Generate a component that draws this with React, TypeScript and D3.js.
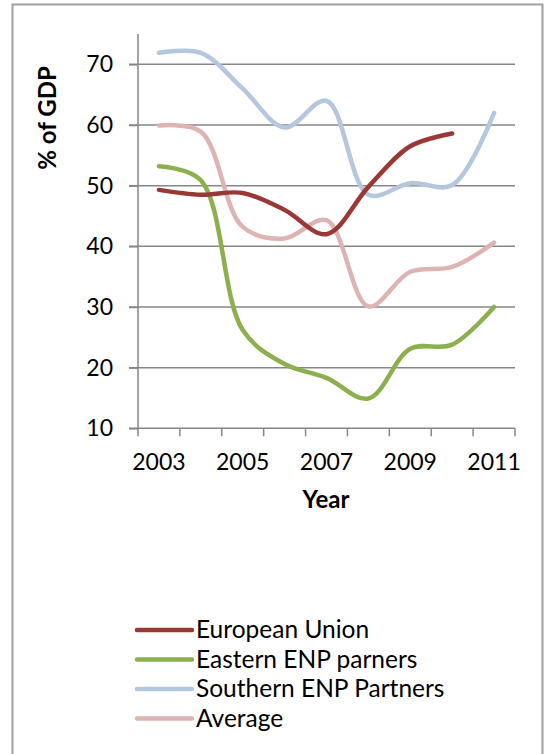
import * as d3 from "d3";
import { useEffect, useRef } from "react";

const years = ["2003", "2004", "2005", "2006", "2007", "2008", "2009", "2010", "2011"];
const yTicks = [10, 20, 30, 40, 50, 60, 70];
const xTickLabels = ["2003", "2005", "2007", "2009", "2011"];

const europeanUnion = [49.3, 48.5, 48.8, 46, 42, 49.8, 56.5, 58.6, null];
const easternEnp = [53.2, 50.9, 26.2, 20.6, 18.3, 14.9, 23.1, 23.8, 30];
const southernEnp = [71.9, 71.9, 66, 59.6, 64, 48.5, 50.4, 50.1, 62];
const average = [59.9, 58.9, 43.2, 41.3, 44.3, 30.1, 35.8, 36.6, 40.6];

const seriesNames = ["European Union", "Eastern ENP parners", "Southern ENP Partners", "Average"];
const seriesColors = ["#993835", "#8DB04E", "#B4C7DF", "#DEB4B3"];

const font = "Lato, 'Open Sans', sans-serif";

export default function App() {
  const ref = useRef<SVGSVGElement>(null);

  useEffect(() => {
    if (!ref.current) return;
    const svg = d3.select(ref.current);
    svg.selectAll("*").remove();

    const width = 544;
    const height = 754;
    svg.attr("width", width).attr("height", height);

    // chart frame
    svg
      .append("path")
      .attr("d", `M12.5,${height} V4.5 H542.5 V${height}`)
      .attr("fill", "none")
      .attr("stroke", "#a0a0a0")
      .attr("stroke-width", 2);

    const x = d3.scaleBand().domain(years).range([138, 515]).paddingInner(0).paddingOuter(0);
    const y = d3.scaleLinear().domain([10, 75]).range([428.3, 34]);

    // gridlines
    svg
      .append("g")
      .selectAll("line")
      .data(yTicks.filter((d) => d > 10))
      .join("line")
      .attr("x1", 129)
      .attr("x2", 515)
      .attr("y1", (d) => y(d))
      .attr("y2", (d) => y(d))
      .attr("stroke", "#868686")
      .attr("stroke-width", 1.5);

    // y axis
    const yAxis = svg
      .append("g")
      .attr("transform", `translate(138,0)`)
      .call(d3.axisLeft(y).tickValues(yTicks).tickSize(9).tickPadding(16).tickFormat((v) => `${v}`));
    yAxis.select(".domain").attr("stroke", "#868686").attr("stroke-width", 1.5).attr("d", `M0,${y(75)}V${y(10)}`);
    yAxis.selectAll("line").attr("stroke", "#868686").attr("stroke-width", 1.5);
    yAxis
      .selectAll("text")
      .attr("font-family", font)
      .attr("font-size", 23)
      .attr("fill", "#000");

    // x axis
    const bounds = years.map((d) => x(d) ?? 0).concat([515]);
    const xAxis = svg.append("g").attr("transform", `translate(0,${y(10)})`);
    xAxis
      .append("line")
      .attr("x1", 129)
      .attr("x2", 515)
      .attr("stroke", "#868686")
      .attr("stroke-width", 1.5);
    xAxis
      .selectAll("line.tick")
      .data(bounds)
      .join("line")
      .attr("class", "tick")
      .attr("x1", (d) => d)
      .attr("x2", (d) => d)
      .attr("y1", 0)
      .attr("y2", 8)
      .attr("stroke", "#868686")
      .attr("stroke-width", 1.5);
    xAxis
      .selectAll("text")
      .data(xTickLabels)
      .join("text")
      .attr("x", (d) => (x(d) ?? 0) + x.bandwidth() / 2)
      .attr("y", 42)
      .attr("text-anchor", "middle")
      .attr("font-family", font)
      .attr("font-size", 23)
      .attr("fill", "#000")
      .text((d) => d);

    // axis titles
    svg
      .append("text")
      .attr("x", 326)
      .attr("y", 508)
      .attr("text-anchor", "middle")
      .attr("font-family", font)
      .attr("font-weight", "bold")
      .attr("font-size", 24)
      .text("Year");
    svg
      .append("text")
      .attr("transform", "translate(56,118) rotate(-90)")
      .attr("text-anchor", "middle")
      .attr("font-family", font)
      .attr("font-weight", "bold")
      .attr("font-size", 24)
      .text("% of GDP");

    // lines
    const allSeries = [europeanUnion, easternEnp, southernEnp, average];
    const line = d3
      .line<number | null>()
      .defined((d) => d != null)
      .x((_, i) => (x(years[i]) ?? 0) + x.bandwidth() / 2)
      .y((d) => y(d as number))
      .curve(d3.curveCatmullRom.alpha(0.5));

    const drawOrder = [3, 2, 1, 0];
    drawOrder.forEach((i) => {
      svg
        .append("path")
        .datum(allSeries[i])
        .attr("fill", "none")
        .attr("stroke", seriesColors[i])
        .attr("stroke-width", 4.5)
        .attr("stroke-linecap", "round")
        .attr("stroke-linejoin", "round")
        .attr("d", line);
    });

    // legend
    const legend = svg
      .append("g")
      .selectAll("g")
      .data(seriesNames)
      .join("g")
      .attr("transform", (_, i) => `translate(137,${630 + i * 29.5})`);
    legend
      .append("line")
      .attr("x1", 0)
      .attr("x2", 55)
      .attr("stroke", (_, i) => seriesColors[i])
      .attr("stroke-width", 4.5)
      .attr("stroke-linecap", "round");
    legend
      .append("text")
      .attr("x", 59)
      .attr("y", 8)
      .attr("font-family", font)
      .attr("font-size", 24.5)
      .attr("fill", "#000")
      .text((d) => d);
  }, []);

  return (
    <svg
      ref={ref}
      style={{ position: "absolute", left: 0, top: 0, background: "#fff" }}
      role="img"
      aria-label="% of GDP by year"
    />
  );
}
